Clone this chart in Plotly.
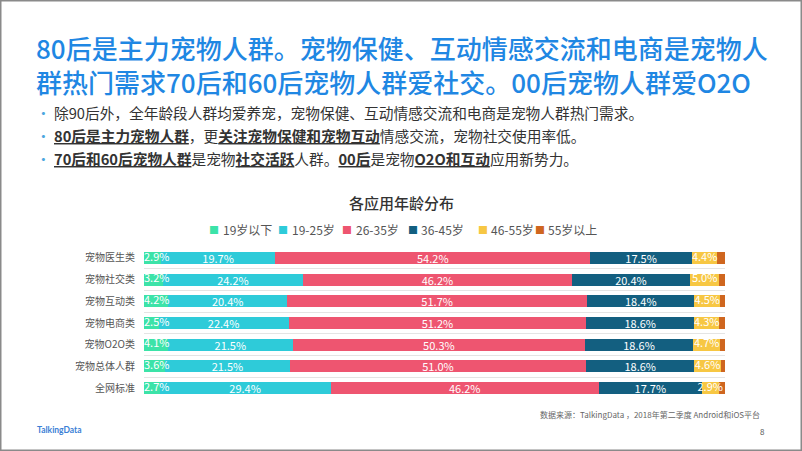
import plotly.graph_objects as go

# ---------------- data ----------------
categories = ["宠物医生类", "宠物社交类", "宠物互动类", "宠物电商类", "宠物O2O类", "宠物总体人群", "全网标准"]
series_names = ["19岁以下", "19-25岁", "26-35岁", "36-45岁", "46-55岁", "55岁以上"]
age_under19 = [2.9, 3.2, 4.2, 2.5, 4.1, 3.6, 2.7]
age_19_25 = [19.7, 24.2, 20.4, 22.4, 21.5, 21.5, 29.4]
age_26_35 = [54.2, 46.2, 51.7, 51.2, 50.3, 51.0, 46.2]
age_36_45 = [17.5, 20.4, 18.4, 18.6, 18.6, 18.6, 17.7]
age_46_55 = [4.4, 5.0, 4.5, 4.3, 4.7, 4.6, 2.9]
age_over55 = [1.3, 1.0, 0.8, 1.0, 0.8, 0.7, 1.1]
series_values = [age_under19, age_19_25, age_26_35, age_36_45, age_46_55, age_over55]
series_colors = ["#3ce3a8", "#2ecbd9", "#ee5570", "#135f80", "#f7c743", "#cf661f"]

title_lines = ["80后是主力宠物人群。宠物保健、互动情感交流和电商是宠物人",
               "群热门需求70后和60后宠物人群爱社交。00后宠物人群爱O2O"]
bullets = [
    "除90后外，全年龄段人群均爱养宠，宠物保健、互动情感交流和电商是宠物人群热门需求。",
    "<u><b>80后是主力宠物人群</b></u>，更<u><b>关注宠物保健和宠物互动</b></u>情感交流，宠物社交使用率低。",
    "<u><b>70后和60后宠物人群</b></u>是宠物<u><b>社交活跃</b></u>人群。<u><b>00后</b></u>是宠物<u><b>O2O和互动</b></u>应用新势力。",
]
chart_title = "各应用年龄分布"
source_text = "数据来源：TalkingData ，2018年第二季度 Android和iOS平台"
page_no = "8"
logo_text = "TalkingData"

FONT = "Noto Sans CJK SC, Noto Sans, sans-serif"

# ---------------- layout geometry (pixels) ----------------
W, H = 802, 451
L, R, T, B = 144, 725, 247, 399


def px(x):
    return (x - L) / (R - L)


def py(y):
    return (B - y) / (B - T)


def fmt(v):
    return f"{v:.1f}%"


fig = go.Figure()
for i, (name, vals, col) in enumerate(zip(series_names, series_values, series_colors)):
    inner_label = i in (1, 2, 3)
    fig.add_trace(go.Bar(
        y=categories, x=vals, name=name, orientation="h",
        marker=dict(color=col, line=dict(width=0)),
        text=[fmt(v) for v in vals] if inner_label else None,
        textposition="inside" if inner_label else "none",
        insidetextanchor="middle",
        constraintext="none",
        textfont=dict(color="white", size=11, family=FONT),
        hoverinfo="skip",
        showlegend=False,
    ))

# labels for the narrow segments, drawn above all bars so they are not covered
fig.add_trace(go.Scatter(
    y=categories, x=[0] * len(categories), mode="text",
    text=[fmt(v) for v in age_under19], textposition="middle right",
    textfont=dict(color="white", size=11, family=FONT),
    cliponaxis=False, hoverinfo="skip", showlegend=False))
start_46 = [a + b + c + d for a, b, c, d in zip(age_under19, age_19_25, age_26_35, age_36_45)]
fig.add_trace(go.Scatter(
    y=categories, x=[s + v / 2 for s, v in zip(start_46, age_46_55)], mode="text",
    text=[fmt(v) for v in age_46_55], textposition="middle center",
    textfont=dict(color="white", size=11, family=FONT),
    cliponaxis=False, hoverinfo="skip", showlegend=False))

annotations = []
# title (two lines)
annotations.append(dict(
    text="<br>".join(title_lines), x=px(34), y=py(64), xref="paper", yref="paper",
    xanchor="left", yanchor="middle", align="left", showarrow=False,
    font=dict(size=26, color="#1f87e3", family=FONT, weight=500)))
# bullets
for i, b in enumerate(bullets):
    annotations.append(dict(
        text="<span style='color:#4da6e0'>•</span> " + b,
        x=px(34), y=py(112 + 23.3 * i), xref="paper", yref="paper",
        xanchor="left", yanchor="middle", showarrow=False,
        font=dict(size=14.7, color="#333333", family=FONT)))
# chart title
annotations.append(dict(
    text=chart_title, x=px(401), y=py(202), xref="paper", yref="paper",
    xanchor="center", yanchor="middle", showarrow=False,
    font=dict(size=15, color="#333333", family=FONT, weight=500)))
# legend (marker + text annotations)
legend_marker_x = [214, 283, 347, 413, 483, 540]
legend_text_x = [221, 290, 354, 419, 489, 546]
for name, col, mx, tx in zip(series_names, series_colors, legend_marker_x, legend_text_x):
    annotations.append(dict(
        text="■", x=px(mx), y=py(229), xref="paper", yref="paper",
        xanchor="center", yanchor="middle", showarrow=False,
        font=dict(size=10, color=col, family=FONT)))
    annotations.append(dict(
        text=name, x=px(tx), y=py(229), xref="paper", yref="paper",
        xanchor="left", yanchor="middle", showarrow=False,
        font=dict(size=12, color="#555555", family=FONT)))
# source and page number
annotations.append(dict(
    text=source_text, x=px(762), y=py(414), xref="paper", yref="paper",
    xanchor="right", yanchor="middle", showarrow=False,
    font=dict(size=8, color="#666666", family=FONT)))
annotations.append(dict(
    text=page_no, x=px(767), y=py(431), xref="paper", yref="paper",
    xanchor="right", yanchor="middle", showarrow=False,
    font=dict(size=8, color="#555555", family=FONT)))
annotations.append(dict(
    text=f"<b>{logo_text}</b>", x=px(35), y=py(430), xref="paper", yref="paper",
    xanchor="left", yanchor="middle", showarrow=False,
    font=dict(size=8.5, color="#3b7fd6", family="Lato, Noto Sans, sans-serif")))

shapes = [dict(type="rect", xref="paper", yref="paper",
               x0=px(0.75), x1=px(W - 0.75), y0=py(H - 0.75), y1=py(0.75),
               line=dict(color="#8a8a8a", width=1.5), fillcolor="rgba(0,0,0,0)", layer="above")]

fig.update_layout(
    width=W, height=H,
    margin=dict(l=L, r=W - R, t=T, b=H - B, pad=0),
    barmode="stack", bargap=0.45,
    plot_bgcolor="white", paper_bgcolor="white",
    font=dict(family=FONT),
    xaxis=dict(range=[0, 100], showgrid=False, zeroline=False, showticklabels=False,
               showline=False, fixedrange=True),
    yaxis=dict(type="category", categoryorder="array", categoryarray=categories,
               autorange="reversed", tickson="boundaries", showgrid=True,
               gridcolor="#e4e4e4", gridwidth=1, ticks="", ticklabelstandoff=8,
               tickfont=dict(size=10, color="#555555", family=FONT), zeroline=False,
               fixedrange=True),
    annotations=annotations, shapes=shapes,
)

fig.write_html("out.html", config={"displayModeBar": False},
               post_script="document.body.style.margin='0';document.body.style.overflow='hidden';")
